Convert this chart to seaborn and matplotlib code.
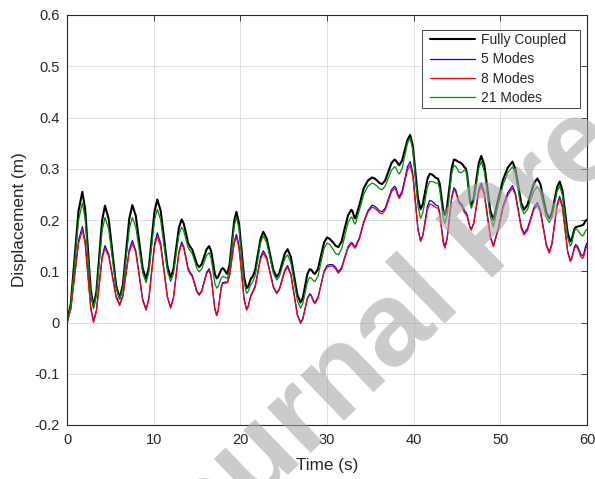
import numpy as np
import pandas as pd
import matplotlib
matplotlib.use("Agg")
import matplotlib.pyplot as plt
from matplotlib.patches import Rectangle
import seaborn as sns

# ---------------- data ----------------
time_s = [0.00, 0.44, 0.89, 1.33,
          1.77, 2.09, 2.42, 2.74,
          3.06, 3.39, 3.72, 4.05,
          4.38, 4.81, 5.23, 5.66,
          6.08, 6.45, 6.81, 7.18,
          7.54, 7.94, 8.33, 8.73,
          9.12, 9.45, 9.77, 10.10,
          10.42, 10.81, 11.19, 11.58,
          11.96, 12.28, 12.60, 12.91,
          13.23, 13.47, 13.72, 13.96,
          14.20, 14.46, 14.73, 14.99,
          15.25, 15.54, 15.83, 16.11,
          16.40, 16.62, 16.84, 17.05,
          17.27, 17.44, 17.62, 17.79,
          17.96, 18.10, 18.23, 18.37,
          18.50, 18.76, 19.03, 19.29,
          19.55, 19.84, 20.14, 20.43,
          20.72, 20.89, 21.06, 21.23,
          21.40, 21.71, 22.03, 22.34,
          22.65, 23.04, 23.43, 23.81,
          24.20, 24.51, 24.83, 25.14,
          25.45, 25.83, 26.20, 26.58,
          26.95, 27.21, 27.48, 27.74,
          28.00, 28.16, 28.31, 28.47,
          28.62, 28.97, 29.31, 29.66,
          30.00, 30.33, 30.65, 30.98,
          31.30, 31.68, 32.05, 32.43,
          32.80, 32.92, 33.04, 33.15,
          33.27, 33.75, 34.24, 34.72,
          35.20, 35.49, 35.78, 36.06,
          36.35, 36.71, 37.08, 37.44,
          37.80, 37.94, 38.08, 38.21,
          38.35, 38.66, 38.98, 39.29,
          39.60, 39.90, 40.20, 40.50,
          40.80, 41.06, 41.33, 41.59,
          41.85, 42.09, 42.33, 42.56,
          42.80, 43.00, 43.20, 43.40,
          43.60, 43.86, 44.13, 44.39,
          44.65, 44.84, 45.03, 45.21,
          45.40, 45.55, 45.70, 45.85,
          46.00, 46.16, 46.33, 46.49,
          46.65, 46.94, 47.23, 47.51,
          47.80, 48.15, 48.50, 48.85,
          49.20, 49.75, 50.30, 50.85,
          51.40, 51.73, 52.07, 52.40,
          52.73, 53.12, 53.50, 53.89,
          54.27, 54.62, 54.96, 55.31,
          55.65, 55.95, 56.25, 56.55,
          56.85, 57.16, 57.46, 57.77,
          58.07, 58.23, 58.39, 58.54,
          58.70, 58.90, 59.10, 59.30,
          59.50, 59.63, 59.75, 59.88,
          60.00]

fully_coupled = [0.000, .037, .128, .218,
                 .255, .222, .143, .064,
                 .031, .060, .130, .199,
                 .228, .202, .138, .073,
                 .047, .074, .138, .202,
                 .229, .208, .157, .106,
                 .085, .108, .163, .217,
                 .240, .218, .164, .110,
                 .088, .104, .145, .185,
                 .201, .193, .175, .156,
                 .148, .142, .128, .114,
                 .108, .114, .129, .143,
                 .149, .140, .118, .095,
                 .086, .089, .096, .103,
                 .106, .104, .101, .097,
                 .095, .113, .156, .198,
                 .216, .194, .142, .089,
                 .067, .070, .078, .086,
                 .089, .102, .133, .164,
                 .177, .164, .133, .102,
                 .089, .097, .116, .135,
                 .143, .128, .091, .054,
                 .039, .048, .072, .095,
                 .104, .103, .100, .096,
                 .095, .105, .131, .156,
                 .166, .163, .157, .150,
                 .147, .158, .184, .209,
                 .220, .218, .212, .205,
                 .203, .230, .262, .277,
                 .283, .281, .277, .272,
                 .270, .277, .294, .311,
                 .318, .316, .313, .309,
                 .307, .316, .337, .357,
                 .366, .345, .294, .242,
                 .221, .231, .256, .280,
                 .290, .289, .286, .282,
                 .281, .271, .246, .220,
                 .210, .226, .264, .302,
                 .318, .317, .315, .313,
                 .312, .310, .307, .303,
                 .301, .290, .265, .240,
                 .229, .243, .277, .311,
                 .325, .307, .263, .218,
                 .200, .240, .278, .302,
                 .314, .300, .267, .234,
                 .220, .229, .251, .272,
                 .281, .270, .242, .214,
                 .203, .214, .239, .264,
                 .275, .258, .217, .175,
                 .158, .162, .172, .182,
                 .186, .187, .188, .189,
                 .190, .192, .196, .199,
                 .201]

modes_5 = [0.000, .027, .094, .160,
           .187, .160, .095, .030,
           .003, .024, .077, .129,
           .150, .133, .093, .052,
           .035, .053, .098, .142,
           .160, .140, .093, .046,
           .026, .048, .101, .153,
           .175, .154, .103, .051,
           .030, .049, .094, .138,
           .157, .148, .128, .107,
           .098, .092, .077, .061,
           .055, .062, .080, .098,
           .105, .092, .060, .028,
           .015, .024, .047, .069,
           .078, .078, .079, .079,
           .079, .093, .126, .158,
           .172, .151, .099, .047,
           .026, .031, .043, .054,
           .059, .071, .100, .128,
           .140, .128, .099, .070,
           .058, .066, .085, .103,
           .111, .095, .056, .016,
           .000, .008, .028, .048,
           .056, .054, .048, .041,
           .039, .050, .075, .100,
           .111, .113, .113, .108,
           .099, .107, .128, .148,
           .156, .155, .152, .149,
           .148, .166, .197, .218,
           .229, .227, .223, .218,
           .216, .223, .241, .259,
           .266, .263, .256, .249,
           .246, .256, .280, .304,
           .314, .292, .237, .182,
           .160, .171, .199, .227,
           .238, .237, .233, .229,
           .228, .216, .188, .160,
           .148, .165, .206, .246,
           .263, .259, .248, .237,
           .233, .231, .225, .218,
           .216, .211, .199, .187,
           .182, .195, .227, .259,
           .272, .254, .211, .168,
           .150, .183, .227, .253,
           .267, .253, .221, .188,
           .174, .183, .204, .225,
           .234, .220, .186, .152,
           .138, .154, .192, .230,
           .246, .228, .184, .139,
           .121, .126, .137, .147,
           .152, .149, .141, .133,
           .130, .134, .143, .151,
           .155]

modes_8 = [0.000, .026, .090, .154,
           .180, .154, .090, .026,
           .000, .021, .073, .124,
           .145, .129, .089, .049,
           .033, .051, .094, .137,
           .155, .136, .090, .043,
           .024, .045, .097, .148,
           .169, .148, .099, .049,
           .028, .046, .091, .135,
           .153, .145, .124, .103,
           .095, .089, .074, .059,
           .053, .060, .078, .095,
           .102, .089, .058, .026,
           .013, .022, .045, .067,
           .076, .076, .077, .077,
           .077, .090, .122, .154,
           .167, .146, .096, .045,
           .024, .029, .041, .052,
           .057, .068, .096, .124,
           .135, .123, .096, .068,
           .056, .064, .082, .100,
           .108, .092, .053, .014,
           -.002, .006, .026, .046,
           .054, .052, .046, .039,
           .037, .047, .073, .098,
           .108, .110, .110, .105,
           .096, .104, .125, .145,
           .153, .152, .149, .146,
           .145, .163, .194, .215,
           .225, .223, .219, .214,
           .212, .219, .237, .255,
           .262, .259, .252, .245,
           .242, .251, .275, .298,
           .307, .285, .233, .180,
           .158, .169, .195, .220,
           .231, .230, .227, .224,
           .223, .212, .184, .156,
           .145, .162, .202, .242,
           .259, .255, .244, .233,
           .229, .227, .221, .214,
           .212, .207, .196, .185,
           .180, .193, .223, .253,
           .266, .249, .207, .165,
           .148, .180, .222, .248,
           .262, .249, .217, .184,
           .171, .179, .200, .221,
           .229, .215, .182, .149,
           .135, .151, .189, .226,
           .242, .224, .181, .137,
           .119, .123, .134, .144,
           .148, .145, .137, .128,
           .125, .129, .137, .145,
           .149]

modes_21 = [0.000, .034, .117, .199,
            .233, .203, .130, .057,
            .027, .053, .116, .179,
            .205, .182, .125, .068,
            .045, .068, .125, .182,
            .205, .186, .142, .097,
            .078, .099, .150, .200,
            .221, .200, .151, .101,
            .080, .095, .133, .171,
            .186, .179, .163, .147,
            .140, .134, .120, .105,
            .099, .104, .118, .131,
            .136, .126, .102, .077,
            .067, .070, .079, .087,
            .090, .089, .088, .087,
            .086, .104, .146, .188,
            .206, .184, .132, .079,
            .057, .060, .068, .075,
            .078, .091, .124, .156,
            .169, .156, .126, .096,
            .083, .090, .108, .125,
            .132, .117, .080, .043,
            .028, .037, .058, .079,
            .088, .087, .084, .081,
            .080, .091, .118, .144,
            .155, .152, .144, .135,
            .132, .143, .169, .195,
            .206, .204, .199, .194,
            .192, .220, .250, .266,
            .272, .270, .266, .261,
            .259, .266, .282, .297,
            .304, .302, .297, .292,
            .290, .300, .325, .350,
            .360, .337, .282, .226,
            .203, .214, .239, .264,
            .275, .275, .274, .272,
            .272, .261, .233, .205,
            .194, .210, .251, .291,
            .307, .305, .300, .294,
            .292, .293, .295, .297,
            .298, .287, .261, .234,
            .223, .236, .269, .301,
            .314, .295, .251, .206,
            .187, .230, .268, .292,
            .304, .291, .258, .225,
            .212, .220, .239, .257,
            .265, .255, .230, .205,
            .195, .205, .231, .256,
            .266, .249, .208, .166,
            .149, .154, .166, .178,
            .183, .181, .176, .171,
            .169, .171, .176, .180,
            .182]

series_names = ["Fully Coupled", "5 Modes", "8 Modes", "21 Modes"]
x_ticks = [0, 10, 20, 30, 40, 50, 60]
y_ticks = [-0.2, -0.1, 0.0, 0.1, 0.2, 0.3, 0.4, 0.5, 0.6]
y_tick_labels = ["-0.2", "-0.1", "0", "0.1", "0.2", "0.3", "0.4", "0.5", "0.6"]
x_label = "Time (s)"
y_label = "Displacement (m)"
watermark = "Journal Pre-proof"

# ---------------- style ----------------
sns.set_style("white")
plt.rcParams["font.family"] = ["Liberation Sans", "DejaVu Sans"]
plt.rcParams["axes.unicode_minus"] = False

values = [fully_coupled, modes_5, modes_8, modes_21]
for name, v in zip(series_names, values):
    if len(v) != len(time_s):
        raise ValueError(f"{name}: {len(v)} values vs {len(time_s)} times")

df = pd.DataFrame({"Time": time_s * 4,
                   "Displacement": sum(values, []),
                   "Series": sum([[n] * len(time_s) for n in series_names], [])})

colors = {"Fully Coupled": "#000000", "5 Modes": "#0000ff", "8 Modes": "#ff0000", "21 Modes": "#008c00"}
widths = {"Fully Coupled": 1.5, "5 Modes": 0.9, "8 Modes": 0.9, "21 Modes": 0.9}

W, H = 595, 479
AX_L, AX_R, AX_T, AX_B = 67, 587, 15, 425
fig = plt.figure(figsize=(W / 100, H / 100), dpi=100)
ax = fig.add_axes([AX_L / W, (H - AX_B) / H, (AX_R - AX_L) / W, (AX_B - AX_T) / H])

for name in series_names:
    sub = df[df["Series"] == name]
    sns.lineplot(data=sub, x="Time", y="Displacement", ax=ax, color=colors[name],
                 linewidth=widths[name], label=name, sort=False, estimator=None,
                 solid_joinstyle="round")

ax.set_xlim(0, 60)
ax.set_ylim(-0.2, 0.6)
ax.set_xticks(x_ticks)
ax.set_xticklabels([str(t) for t in x_ticks])
ax.set_yticks(y_ticks)
ax.set_yticklabels(y_tick_labels)

ax.grid(True, color="#dedede", linewidth=0.7)
ax.set_axisbelow(True)
for sp in ax.spines.values():
    sp.set_visible(True)
    sp.set_color("#262626")
    sp.set_linewidth(0.8)
ax.tick_params(axis="both", direction="in", length=4, width=0.6, top=True, right=True,
               labelsize=10.5, labelcolor="#262626", color="#262626")
ax.tick_params(axis="x", pad=6)
ax.tick_params(axis="y", pad=5)

ax.set_xlabel(x_label, fontsize=12.3, color="#262626")
ax.set_ylabel(y_label, fontsize=12.3, color="#262626")
ax.xaxis.set_label_coords(0.5, -0.08)
ax.yaxis.set_label_coords(-0.077, 0.5)


def ax_x(px):
    return (px - AX_L) / (AX_R - AX_L)


def ax_y(py):
    return 1 - (py - AX_T) / (AX_B - AX_T)


# legend box (MATLAB-like: wider horizontal padding than vertical)
frame = Rectangle((ax_x(422), ax_y(108)), ax_x(580) - ax_x(422), ax_y(30) - ax_y(108),
                  transform=ax.transAxes, facecolor="white", edgecolor="#262626",
                  linewidth=0.6, zorder=4.9)
ax.add_patch(frame)
leg = ax.legend(loc="upper left", bbox_to_anchor=(ax_x(430), ax_y(33)), borderaxespad=0,
                borderpad=0, frameon=False, fontsize=10,
                handlelength=3.25, handletextpad=0.42, labelspacing=0.39)
leg.set_zorder(5)

fig.text(0.827, 0.507, watermark, rotation=44, fontsize=86, fontweight="bold",
         color="#a8a8a8", alpha=0.6, ha="center", va="center",
         rotation_mode="anchor", zorder=10)

fig.savefig("out.png", dpi=100)
